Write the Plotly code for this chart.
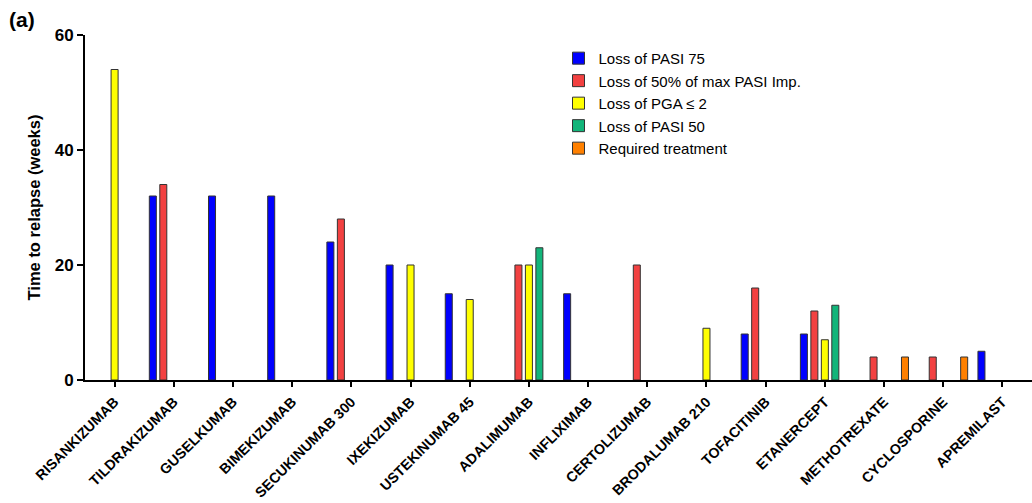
import plotly.graph_objects as go

categories = ["RISANKIZUMAB", "TILDRAKIZUMAB", "GUSELKUMAB", "BIMEKIZUMAB",
              "SECUKINUMAB 300", "IXEKIZUMAB", "USTEKINUMAB 45", "ADALIMUMAB",
              "INFLIXIMAB", "CERTOLIZUMAB", "BRODALUMAB 210", "TOFACITINIB",
              "ETANERCEPT", "METHOTREXATE", "CYCLOSPORINE", "APREMILAST"]

loss_pasi75 = [None, 32, 32, 32, 24, 20, 15, None, 15, None, None, 8, 8, None, None, 5]
loss_50_max = [None, 34, None, None, 28, None, None, 20, None, 20, None, 16, 12, 4, 4, None]
loss_pga2 = [54, None, None, None, None, 20, 14, 20, None, None, 9, None, 7, None, None, None]
loss_pasi50 = [None, None, None, None, None, None, None, 23, None, None, None, None, 13, None, None, None]
required_tx = [None, None, None, None, None, None, None, None, None, None, None, None, None, 4, 4, None]

series_names = ["Loss of PASI 75", "Loss of 50% of max PASI Imp.", "Loss of PGA \u2264 2",
                "Loss of PASI 50", "Required treatment"]
series_values = [loss_pasi75, loss_50_max, loss_pga2, loss_pasi50, required_tx]
series_colors = ["#0000FF", "#F24141", "#FFFF00", "#12B57A", "#FF8000"]

y_ticks = [0, 20, 40, 60]

FONT = "Arial, Liberation Sans, Helvetica, sans-serif"

fig = go.Figure()
for i, (name, vals, col) in enumerate(zip(series_names, series_values, series_colors)):
    fig.add_trace(go.Bar(
        x=categories, y=vals, name=name, legendgroup=f"g{i}",
        marker=dict(color=col, line=dict(color="#333333", width=1)),
    ))

fig.update_layout(
    width=1032, height=503,
    barmode="group", bargap=0.115, bargroupgap=0.33,
    plot_bgcolor="white", paper_bgcolor="white",
    margin=dict(l=85, r=0, t=35, b=123),
    font=dict(family=FONT, color="black"),
    showlegend=True,
    legend=dict(x=0.5, y=0.98, xanchor="left", yanchor="top",
                font=dict(family=FONT, size=15, color="black"),
                bgcolor="rgba(0,0,0,0)", tracegroupgap=7, traceorder="normal"),
    xaxis=dict(range=[-0.5, 15.5], showline=True, linecolor="black", linewidth=2,
               ticks="outside", ticklen=5, tickwidth=2, tickcolor="black",
               tickangle=-45, tickfont=dict(family=FONT, size=14.3, weight="bold"),
               ticklabelstandoff=1, automargin=False,
               showgrid=False, zeroline=False),
    yaxis=dict(range=[0, 60], tickvals=y_ticks, showline=True, linecolor="black", linewidth=2,
               ticks="outside", ticklen=6, tickwidth=2, tickcolor="black",
               tickfont=dict(family=FONT, size=17, weight="bold"), automargin=False,
               title=dict(text="Time to relapse (weeks)", font=dict(family=FONT, size=16.5, weight="bold"),
                          standoff=10),
               showgrid=False, zeroline=False),
    annotations=[dict(text="<b>(a)</b>", x=-0.082, y=1.085, xref="paper", yref="paper",
                      xanchor="left", yanchor="top", showarrow=False,
                      font=dict(family=FONT, size=21, color="black"))],
)

fig.write_html("out.html")
